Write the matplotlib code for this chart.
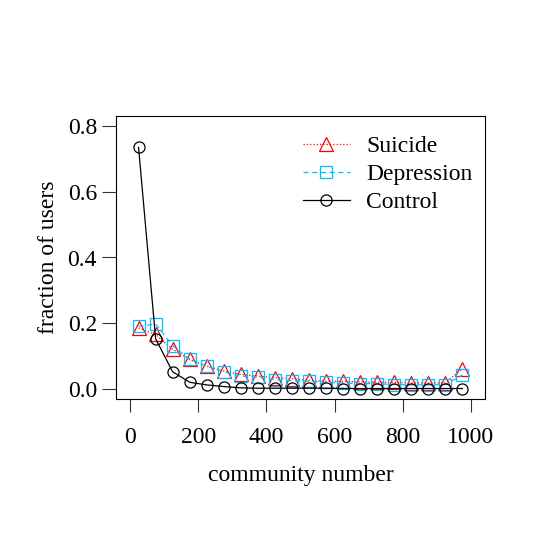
import matplotlib
matplotlib.use("Agg")
import matplotlib.pyplot as plt

community = [25, 75, 125, 175, 225, 275, 325, 375, 425, 475,
             525, 575, 625, 675, 725, 775, 825, 875, 925, 975]
suicide = [0.185, 0.165, 0.120, 0.089, 0.068, 0.053, 0.043, 0.038, 0.033, 0.030,
           0.025, 0.022, 0.022, 0.020, 0.019, 0.019, 0.017, 0.017, 0.017, 0.061]
depression = [0.190, 0.197, 0.131, 0.089, 0.068, 0.051, 0.038, 0.035, 0.027, 0.024,
              0.022, 0.019, 0.017, 0.015, 0.015, 0.012, 0.011, 0.011, 0.012, 0.041]
control = [0.736, 0.152, 0.051, 0.019, 0.011, 0.006, 0.002, 0.001, 0.001, 0.001,
           0.001, 0.001, 0.000, 0.000, 0.000, 0.000, 0.000, 0.000, 0.000, 0.000]
series_names = ["Suicide", "Depression", "Control"]
xticks = [0, 200, 400, 600, 800, 1000]
yticks = [0.0, 0.2, 0.4, 0.6, 0.8]

plt.rcParams['font.family'] = ['Liberation Serif', 'DejaVu Serif']
FS = 17

fig = plt.figure(figsize=(5.45, 5.45), dpi=100)
W = 545.0
ax = fig.add_axes([116.4 / W, 1 - 399 / W, (484.6 - 116.4) / W, (399 - 116) / W])

lw = 0.9
ax.plot(community, suicide, color='#FF0000', linestyle=':', linewidth=lw,
        marker='^', markersize=10, markerfacecolor='none', markeredgecolor='#FF0000',
        markeredgewidth=0.9, label=series_names[0])
ax.plot(community, depression, color='#00BFFF', linestyle=(0, (4, 3)), linewidth=lw,
        marker='s', markersize=8, markerfacecolor='none', markeredgecolor='#00BFFF',
        markeredgewidth=0.9, label=series_names[1])
ax.plot(community, control, color='black', linestyle='-', linewidth=lw,
        marker='o', markersize=8, markerfacecolor='none', markeredgecolor='black',
        markeredgewidth=0.9, label=series_names[2])

ax.set_xlim(-40, 1040)
ax.set_ylim(-0.032, 0.832)
ax.set_xticks(xticks)
ax.set_xticklabels([str(v) for v in xticks])
ax.set_yticks(yticks)
ax.set_yticklabels([f"{v:.1f}" for v in yticks])
ax.tick_params(axis='x', direction='out', length=9.5, width=0.8, pad=11, labelsize=FS, colors='#333333', labelcolor='black')
ax.tick_params(axis='y', direction='out', length=10, width=0.8, pad=4, labelsize=FS, colors='#333333', labelcolor='black')
for s in ax.spines.values():
    s.set_linewidth(0.8)

ax.set_xlabel("community number", fontsize=FS, labelpad=12)
ax.set_ylabel("fraction of users", fontsize=FS, labelpad=6)

leg = ax.legend(loc='upper left', bbox_to_anchor=(0.48, 0.965), frameon=False,
                fontsize=FS, handlelength=2.0, handletextpad=0.7,
                labelspacing=0.28, borderaxespad=0)

fig.savefig("out.png", dpi=100)
